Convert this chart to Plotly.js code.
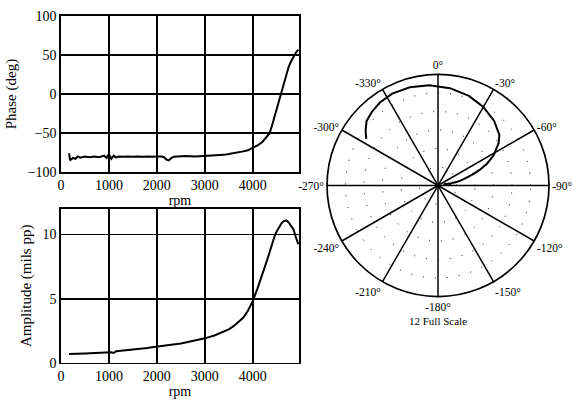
<!DOCTYPE html>
<html><head><meta charset="utf-8">
<script src="https://cdn.plot.ly/plotly-3.0.1.min.js"></script>
<style>html,body{margin:0;padding:0;background:#fff}#chart{width:572px;height:401px}</style>
</head><body><div id="chart"></div>
<script>
const rpm = [170,190,250,300,350,400,500,600,700,800,900,950,1000,1050,1100,1150,1200,1300,1400,1500,1600,1700,1800,1900,2000,2100,2150,2200,2250,2300,2350,2500,2600,2800,3000,3200,3400,3500,3600,3700,3800,3900,4000,4100,4200,4300,4350,4400,4450,4500,4550,4600,4650,4700,4750,4800,4850,4900,4950];
const phaseDeg = [-76,-85,-82,-83,-80,-81.5,-80,-81,-80,-81,-79,-82,-77,-83,-79,-81.5,-80,-80.5,-80,-80.5,-80,-80.5,-80,-80.5,-80,-80,-81,-84,-85,-82,-80.5,-80,-79.5,-80,-79.5,-79,-78,-77,-76,-75,-73.5,-72,-69.5,-66,-61.5,-55,-50.5,-41,-30,-19,-7,5,16,26.5,35,42,48,53,57];
const amplitude = [0.68,0.68,0.69,0.7,0.7,0.71,0.72,0.74,0.76,0.78,0.82,0.84,0.86,0.82,0.76,0.9,0.92,0.95,0.98,1.02,1.06,1.1,1.15,1.2,1.25,1.27,1.3,1.3,1.33,1.36,1.4,1.5,1.58,1.72,1.9,2.12,2.4,2.6,2.85,3.15,3.5,4.05,4.8,5.8,6.85,8.0,8.6,9.25,9.8,10.25,10.6,10.88,11.05,11.1,10.95,10.7,10.4,9.8,9.25];

const rpmTicks = [0,1000,2000,3000,4000];
const phaseTicks = [-100,-50,0,50,100];
const ampTicks = [0,5,10];
const polarAngles = [0,30,60,90,120,150,180,210,240,270,300,330];
const polarLabels = ['0°','-330°','-300°','-270°','-240°','-210°','-180°','-150°','-120°','-90°','-60°','-30°'];
const polarRings = [2,4,6,8,10];
const fullScale = 12;
const scaleLabel = '12 Full Scale';

const serif = 'Liberation Serif, Times New Roman, serif';
const lineStyle = {color:'#000', width:2};

const traces = [
  {type:'scatter', mode:'lines', x:rpm, y:phaseDeg, xaxis:'x', yaxis:'y', line:lineStyle, hoverinfo:'skip'},
  {type:'scatter', mode:'lines', x:rpm, y:amplitude, xaxis:'x2', yaxis:'y2', line:lineStyle, hoverinfo:'skip'},
  {type:'scatterpolar', mode:'lines', r:amplitude, theta:phaseDeg, subplot:'polar', line:lineStyle, hoverinfo:'skip'}
];

function xAx(anchor){
  return {domain:[0.1066,0.5227], anchor:anchor, range:[0,4965], tickmode:'array', tickvals:rpmTicks,
    showgrid:true, gridcolor:'#000', gridwidth:1.8, zeroline:false, showline:true, mirror:true,
    linecolor:'#000', linewidth:1.6, ticks:'', tickfont:{family:serif, size:14, color:'#000'},
    title:{text:'rpm', font:{family:serif, size:14, color:'#000'}, standoff:2}};
}
function yAx(anchor, domain, range, ticks, title){
  return {domain:domain, anchor:anchor, range:range, tickmode:'array', tickvals:ticks,
    showgrid:true, gridcolor:'#000', gridwidth:1.8, zeroline:false, showline:true, mirror:true,
    linecolor:'#000', linewidth:1.6, ticks:'', tickfont:{family:serif, size:14, color:'#000'},
    title:{text:title, font:{family:serif, size:15, color:'#000'}, standoff:7}};
}

const layout = {
  width:572, height:401, margin:{l:0,r:0,t:0,b:0}, paper_bgcolor:'#fff', plot_bgcolor:'#fff',
  showlegend:false,
  xaxis:xAx('y'),
  yaxis:yAx('x',[0.571,0.960],[-100,100],phaseTicks,'Phase (deg)'),
  xaxis2:xAx('y2'),
  yaxis2:yAx('x2',[0.0955,0.479],[0,fullScale],ampTicks,'Amplitude (mils pp)'),
  polar:{
    domain:{x:[0.5717,0.9598], y:[0.2606,0.8142]},
    bgcolor:'#fff',
    angularaxis:{direction:'counterclockwise', rotation:90, tickmode:'array', tickvals:polarAngles, ticktext:polarLabels,
      showgrid:true, gridcolor:'#000', gridwidth:1.5, showline:true, linecolor:'#000', linewidth:1.7,
      ticks:'', tickfont:{family:serif, size:11.5, color:'#000'}},
    radialaxis:{range:[0,fullScale], tickmode:'array', tickvals:polarRings, showticklabels:false, ticks:'',
      showline:false, showgrid:true, gridcolor:'#000', gridwidth:1, griddash:'1px,11px'}
  },
  annotations:[{text:scaleLabel, xref:'paper', yref:'paper', x:0.7657, y:0.2, showarrow:false,
    font:{family:serif, size:11, color:'#000'}, xanchor:'center', yanchor:'middle'}]
};

Plotly.newPlot('chart', traces, layout, {staticPlot:true, displayModeBar:false});
</script>
</body></html>
